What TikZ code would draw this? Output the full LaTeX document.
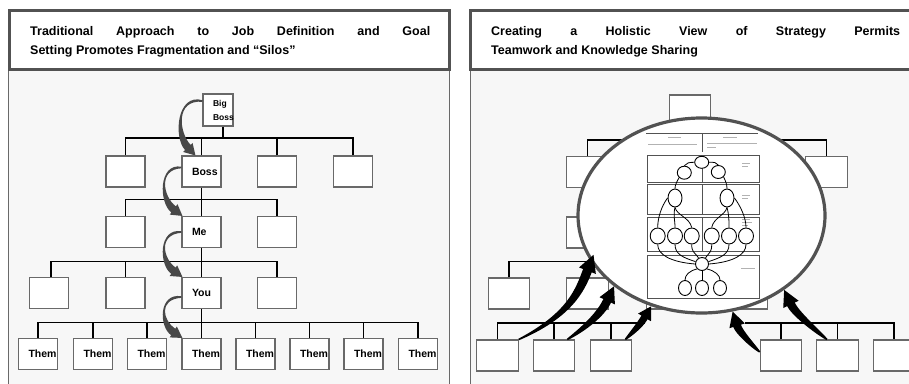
\documentclass[tikz,border=0pt]{standalone}
\usepackage{fontspec}
\setmainfont{Liberation Sans}
\usetikzlibrary{calc,shapes.geometric}
\definecolor{bodybg}{RGB}{247,247,247}
\definecolor{framec}{RGB}{82,82,82}
\definecolor{boxc}{RGB}{105,105,105}
\definecolor{garrowc}{RGB}{72,72,72}
\newcommand\blab[1]{\makebox[39pt][l]{\hspace{10pt}#1}}
% tapered arrow: #1 colour, #2 tail, #3 ctrl1, #4 ctrl2, #5 tip,
% #6 half width mid, #7 half width end, #8 half head width, #9 head length
\newcommand\taparrow[9]{%
  \coordinate (taA) at #2;
  \coordinate (taC) at #3;
  \coordinate (taD) at #4;
  \coordinate (taT) at #5;
  \coordinate (taB) at ($(taT)!#9!(taD)$);
  \fill[#1] ($(taA)!0.8pt!90:(taC)$)
    .. controls ($(taC)!#6!-90:(taA)$) and ($(taD)!#7!90:(taB)$) .. ($(taB)!#7!-90:(taD)$)
    -- ($(taB)!#8!-90:(taD)$) -- (taT) -- ($(taB)!#8!90:(taD)$) -- ($(taB)!#7!90:(taD)$)
    .. controls ($(taD)!#7!-90:(taB)$) and ($(taC)!#6!90:(taA)$) .. ($(taA)!0.8pt!-90:(taC)$) -- cycle;
}
\begin{document}
\begin{tikzpicture}[x=1pt,y=-1pt,
  titlebox/.style={draw=framec,line width=2.6pt,fill=white},
  panel/.style={draw=boxc,line width=0.9pt,fill=bodybg},
  ttl/.style={anchor=base west,inner sep=0pt,font=\bfseries\fontsize{12.5}{15}\selectfont},
  obox/.style={draw=boxc,fill=white,line width=1.1pt,minimum width=39pt,minimum height=31pt,inner sep=0pt,font=\bfseries\fontsize{10.5}{12}\selectfont},
  rbox/.style={obox,minimum width=41.5pt},
  tline/.style={line width=1.4pt,black},
  lensst/.style={ellipse,draw=framec,line width=3.2pt,fill=white,minimum width=247pt,minimum height=195pt,inner sep=0pt},
  mnode/.style={ellipse,draw=black,line width=0.9pt,fill=white,inner sep=0pt},
  band/.style={draw=framec,line width=0.8pt},
  mline/.style={line width=0.8pt,black},
  scrib/.style={line width=0.4pt,gray!60}
]
\useasboundingbox (0,0) rectangle (909,383);
\begin{scope}
\clip (0,0) rectangle (909,383);

% ---------------- panels ----------------
\draw[panel] (8.5,69.5) rectangle (449.5,395);
\draw[titlebox] (9.5,10.5) rectangle (449.5,69.5);
\draw[panel] (470.5,69.5) rectangle (930,395);
\draw[titlebox] (470.5,10.5) rectangle (930,69.5);

\node[ttl] (ltitle) at (30,35.5) {\vtop{\baselineskip=18.5pt\hbox to 400pt{Traditional Approach to Job Definition and Goal}\hbox{Setting Promotes Fragmentation and “Silos”}}};
\node[ttl] (rtitle) at (491,35.5) {\vtop{\baselineskip=18.5pt\hbox to 409pt{Creating a Holistic View of Strategy Permits}\hbox{Teamwork and Knowledge Sharing}}};

% ---------------- left tree ----------------
\node[obox,minimum width=30pt,minimum height=32pt,font=\bfseries\fontsize{8.5}{10}\selectfont] (bb) at (218,110)
  {\makebox[30pt][l]{\hspace{10pt}\vbox{\baselineskip=14pt\hbox{Big}\hbox{Boss}}}};
\node[obox] (r1a) at (125.5,171.5) {};
\node[obox] (boss) at (201.5,171.5) {\blab{Boss}};
\node[obox] (r1c) at (277,171.5) {};
\node[obox] (r1d) at (353,171.5) {};
\node[obox] (r2a) at (125.5,232) {};
\node[obox] (me) at (201.5,232) {\blab{Me}};
\node[obox] (r2c) at (277,232) {};
\node[obox] (r3a) at (49,293) {};
\node[obox] (r3b) at (125.5,293) {};
\node[obox] (you) at (201.5,293) {\blab{You}};
\node[obox] (r3d) at (277,293) {};
\node[obox] (t1) at (38,354) {\blab{Them}};
\node[obox] (t2) at (93,354) {\blab{Them}};
\node[obox] (t3) at (147,354) {\blab{Them}};
\node[obox] (t4) at (201.5,354) {\blab{Them}};
\node[obox] (t5) at (255.5,354) {\blab{Them}};
\node[obox] (t6) at (309.5,354) {\blab{Them}};
\node[obox] (t7) at (363.5,354) {\blab{Them}};
\node[obox] (t8) at (418,354) {\blab{Them}};

\draw[tline] ([xshift=5pt]bb.south) -- ++(0,12.5);
\draw[tline] (r1a.north) -- ++(0,-17.5) -| (r1d.north);
\draw[tline] (boss.north) -- ++(0,-17.5);
\draw[tline] (r1c.north) -- ++(0,-17.5);
\draw[tline] (boss.south) -- (me.north);
\draw[tline] (r2a.north) -- ++(0,-16.5) -| (r2c.north);
\draw[tline] (me.south) -- (you.north);
\draw[tline] ([xshift=2pt]r3a.north) -- ++(0,-15.5) -| (r3d.north);
\draw[tline] (r3b.north) -- ++(0,-15.5);
\draw[tline] (you.south) -- (t4.north);
\draw[tline] (t1.north) -- ++(0,-15.5) -| (t8.north);
\foreach \n in {t2,t3,t5,t6,t7} \draw[tline] (\n.north) -- ++(0,-15.5);

% gray curved arrows
\taparrow{garrowc}{([yshift=9pt]bb.west)}{(176,96)}{(176,135)}{([xshift=14pt]boss.north west)}{3.4pt}{3.8pt}{6.5pt}{11pt}
\taparrow{garrowc}{([yshift=4pt]boss.west)}{(158,166)}{(161,200)}{([xshift=1pt]me.north west)}{3.4pt}{3.8pt}{6.5pt}{11pt}
\taparrow{garrowc}{(me.west)}{(158,231)}{(161,262)}{([xshift=1pt]you.north west)}{3.4pt}{3.8pt}{6.5pt}{11pt}
\taparrow{garrowc}{([yshift=-4pt]you.west)}{(158,296)}{(161,324)}{([xshift=1pt]t4.north west)}{3.4pt}{3.8pt}{6.5pt}{11pt}

% ---------------- right tree (behind the lens) ----------------
\node[rbox] (q0) at (690,110.5) {};
\node[rbox] (q1a) at (587.5,172) {};
\node[rbox] (q1b) at (667,172) {};
\node[rbox] (q1c) at (746,172) {};
\node[rbox] (q1d) at (826.5,172) {};
\node[rbox] (q2a) at (587.5,232.5) {};
\node[rbox] (q2b) at (667,232.5) {};
\node[rbox] (q2c) at (746,232.5) {};
\node[rbox] (q3a) at (509,293.5) {};
\node[rbox] (q3b) at (587.5,293.5) {};
\node[rbox] (q3c) at (667,293.5) {};
\node[rbox] (q3d) at (746.5,293.5) {};
\node[rbox] (p1) at (497.5,355.5) {};
\node[rbox] (p2) at (554,355.5) {};
\node[rbox] (p3) at (611,355.5) {};
\node[rbox] (p4) at (781,355.5) {};
\node[rbox] (p5) at (837.5,355.5) {};
\node[rbox] (p6) at (894,355.5) {};

\draw[tline] (q0.south) -- ++(0,15);
\draw[tline] (q1a.north) -- ++(0,-16) -| (q1d.north);
\draw[tline] (q1b.north) -- ++(0,-16);
\draw[tline] (q1c.north) -- ++(0,-16);
\draw[tline] (q1b.south) -- (q2b.north);
\draw[tline] (q2a.north) -- ++(0,-16) -| (q2c.north);
\draw[tline] (q2b.south) -- (q3c.north);
\draw[tline] (q3a.north) -- ++(0,-16) -| (q3d.north);
\draw[tline] (q3b.north) -- ++(0,-16);
\coordinate (g1) at (645,323);
\coordinate (g2) at (745,323);
\draw[tline] (p1.north) |- (g1);
\draw[tline] (g2) -| (p6.north);
\foreach \n in {p2,p3,p4,p5} \draw[tline] (\n.north) -- ++(0,-17);

% ---------------- lens ----------------
\node[lensst] (lens) at (701.5,215.5) {};

% strategy map inside the lens
\draw[framec,line width=1pt] (646,133) -- (758,133);
\draw[band] (702,133) -- (702,152);
\draw[scrib] (668,137.5) -- (681,137.5);
\draw[scrib] (648,144) -- (697,144);
\draw[scrib] (723,137.5) -- (737,137.5);
\draw[scrib] (707,143.5) -- (757,143.5);
\draw[scrib] (707,147) -- (716,147);
\draw[band] (647,155) rectangle (759,182);
\draw[band] (647,184) rectangle (759,214);
\draw[band] (647,217) rectangle (759,251);
\draw[band] (647,255) rectangle (759,298);
\draw[band] (702,155) -- (702,182);
\draw[band] (702,184) -- (702,214);
\draw[band] (702,217) -- (702,251);
\draw[scrib] (742,163) -- (750,163);
\draw[scrib] (742,166) -- (748,166);
\draw[scrib] (742,195) -- (750,195);
\draw[scrib] (742,198) -- (748,198);
\draw[scrib] (742,219) -- (750,219);
\draw[scrib] (742,222) -- (752,222);
\draw[scrib] (742,225) -- (748,225);
\draw[scrib] (741,268) -- (755,268);

\node[mnode,minimum width=14pt,minimum height=12pt] (m0) at (701.7,162.3) {};
\node[mnode,minimum width=14pt,minimum height=13pt] (ml1) at (684.3,172.7) {};
\node[mnode,minimum width=14pt,minimum height=13pt] (mr1) at (718.3,172) {};
\node[mnode,minimum width=14pt,minimum height=18pt] (ml2) at (675,198) {};
\node[mnode,minimum width=14pt,minimum height=18pt] (mr2) at (727,198) {};
\foreach \i/\x in {1/657.7,2/675,3/691.7,4/711.7,5/729,6/746}
  \node[mnode,minimum width=15pt,minimum height=16pt] (c\i) at (\x,236) {};
\node[mnode,minimum width=13pt,minimum height=13pt] (mm) at (702,264) {};
\node[mnode,minimum width=13pt,minimum height=15pt] (mb1) at (685,288) {};
\node[mnode,minimum width=13pt,minimum height=15pt] (mb2) at (702,288) {};
\node[mnode,minimum width=13pt,minimum height=15pt] (mb3) at (720,288) {};

\draw[mline] (m0.west) .. controls +(-5,0) and +(2,-3) .. (ml1.north);
\draw[mline] (m0.east) .. controls +(5,0) and +(-2,-3) .. (mr1.north);
\draw[mline] (ml1.south west) .. controls +(-2,4) and +(0,-4) .. (ml2.north);
\draw[mline] (mr1.south east) .. controls +(2,4) and +(0,-4) .. (mr2.north);
\draw[mline] (ml2.west) .. controls +(-6,8) and +(0,-10) .. (c1.north);
\draw[mline] (ml2.south) .. controls +(-2,8) and +(0,-8) .. (c2.north);
\draw[mline] (ml2.south) .. controls +(2,8) and +(-2,-10) .. (c3.north);
\draw[mline] (mr2.east) .. controls +(6,8) and +(0,-10) .. (c6.north);
\draw[mline] (mr2.south) .. controls +(2,8) and +(0,-8) .. (c5.north);
\draw[mline] (mr2.south) .. controls +(-2,8) and +(2,-10) .. (c4.north);
\draw[mline] (c1.south) .. controls +(0,10) and +(-25,-2) .. (mm.west);
\draw[mline] (c2.south) .. controls +(0,10) and +(-12,-4) .. (mm.160);
\draw[mline] (c3.south) .. controls +(0,8) and +(-4,-6) .. (mm.120);
\draw[mline] (c4.south) .. controls +(0,8) and +(4,-6) .. (mm.60);
\draw[mline] (c5.south) .. controls +(0,10) and +(12,-4) .. (mm.20);
\draw[mline] (c6.south) .. controls +(0,10) and +(25,-2) .. (mm.east);
\draw[mline] (mm.south west) .. controls +(-8,2) and +(0,-5) .. (mb1.north);
\draw[mline] (mm.south) -- (mb2.north);
\draw[mline] (mm.south east) .. controls +(8,2) and +(0,-5) .. (mb3.north);

% black arrows towards the lens
\taparrow{black}{(p1.north east)}{(570,315)}{(580,290)}{($(lens.center)!0.95!(lens.200)$)}{3.2pt}{4.6pt}{9pt}{17pt}
\taparrow{black}{([xshift=-8pt]p2.north east)}{(585,328)}{(601,314)}{(lens.219)}{3pt}{4.2pt}{8.5pt}{16pt}
\taparrow{black}{([xshift=-7pt]p3.north east)}{(633,332)}{(640,325)}{(lens.241)}{2.6pt}{3.6pt}{7.5pt}{13pt}
\taparrow{black}{([yshift=3.5pt]p4.west)}{(752,345)}{(739,332)}{(lens.288)}{2.8pt}{4pt}{8pt}{15pt}
\taparrow{black}{([xshift=-10.5pt]p5.north)}{(815,330)}{(795,313)}{(lens.318)}{3pt}{4.2pt}{8.5pt}{16pt}
\end{scope}
\end{tikzpicture}
\end{document}
